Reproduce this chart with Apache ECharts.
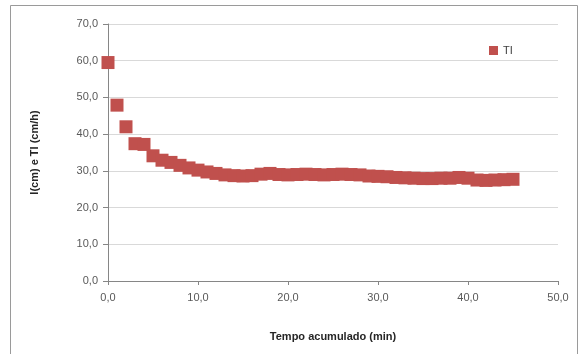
<!DOCTYPE html>
<html><head><meta charset="utf-8">
<script src="https://cdn.jsdelivr.net/npm/echarts@6/dist/echarts.min.js"></script>
<style>html,body{margin:0;padding:0;background:#fff;overflow:hidden;width:586px;height:354px}#c{width:586px;height:354px}</style>
</head><body><div id="c"></div>
<script>
const seriesName = 'TI';
const xTitle = 'Tempo acumulado (min)';
const yTitle = 'I(cm) e TI (cm/h)';
const timeMin = [0,1,2,3,4,5,6,7,8,9,10,11,12,13,14,15,16,17,18,19,20,21,22,23,24,25,26,27,28,29,30,31,32,33,34,35,36,37,38,39,40,41,42,43,44,45];
const tiValues = [59.5,47.9,42.0,37.4,37.2,34.1,32.9,32.3,31.5,30.8,30.2,29.7,29.3,28.9,28.7,28.6,28.7,29.1,29.3,29.0,28.9,29.0,29.1,29.0,28.9,29.0,29.1,29.0,28.9,28.6,28.5,28.4,28.2,28.1,28.0,27.9,27.9,28.0,28.0,28.2,28.0,27.5,27.4,27.5,27.6,27.7];

const fmt = v => v.toFixed(1).replace('.', ',');
const chart = echarts.init(document.getElementById('c'), null, {renderer:'canvas'});
chart.setOption({
  animation:false,
  textStyle:{fontFamily:'Liberation Sans'},
  graphic:[{type:'rect',silent:true,shape:{x:10.5,y:5.5,width:567,height:360},
    style:{fill:'none',stroke:'#9a9a9a',lineWidth:1}}],
  grid:{left:108,right:28,top:24,bottom:73,containLabel:false},
  legend:{data:[seriesName],left:484,top:40,itemWidth:9,itemHeight:9,itemGap:4,
    icon:'rect',textStyle:{fontSize:11,color:'#404040',fontFamily:'Liberation Sans'}},
  xAxis:{type:'value',min:0,max:50,interval:10,
    name:xTitle,nameLocation:'middle',nameGap:50,
    nameTextStyle:{fontSize:11,fontWeight:'bold',color:'#262626'},
    axisLine:{show:true,lineStyle:{color:'#868686'}},
    axisTick:{show:true,length:4,lineStyle:{color:'#868686'}},
    axisLabel:{formatter:fmt,fontSize:11,color:'#595959',margin:11},
    splitLine:{show:false}},
  yAxis:{type:'value',min:0,max:70,interval:10,
    name:yTitle,nameLocation:'middle',nameGap:68,nameRotate:90,
    nameTextStyle:{fontSize:11,fontWeight:'bold',color:'#262626'},
    axisLine:{show:true,lineStyle:{color:'#868686'}},
    axisTick:{show:true,length:5,lineStyle:{color:'#868686'}},
    axisLabel:{formatter:fmt,fontSize:11,color:'#595959',margin:10},
    splitLine:{show:true,lineStyle:{color:'#d9d9d9'}}},
  series:[{name:seriesName,type:'scatter',symbol:'rect',symbolSize:13,
    itemStyle:{color:'#C0504D',opacity:1},
    data:timeMin.map((t,i)=>[t,tiValues[i]])}]
});
</script></body></html>
